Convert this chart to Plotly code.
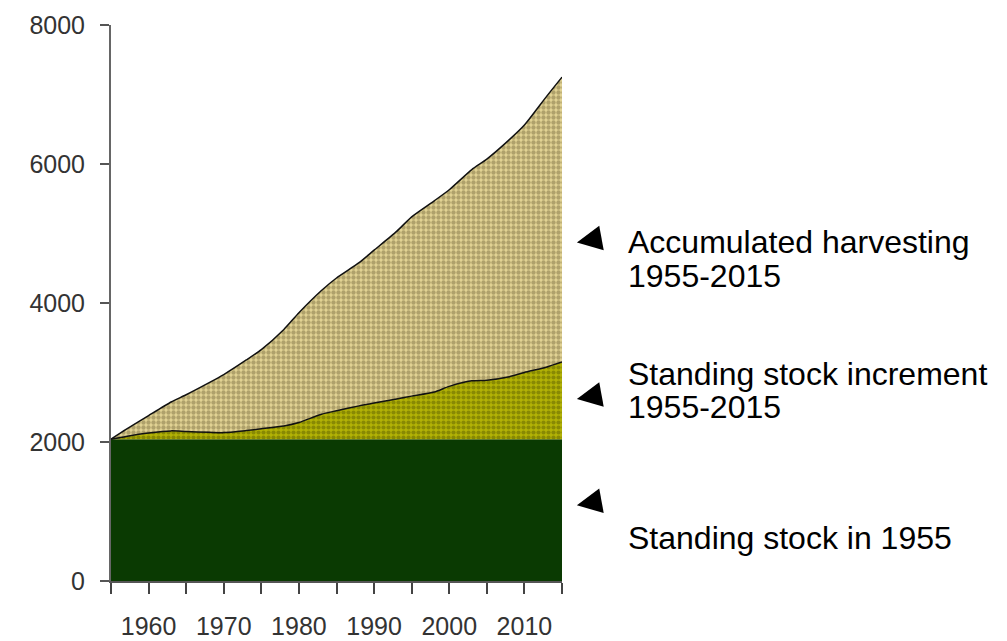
import plotly.graph_objects as go

# values (million m3, roughly)
years = [1955, 1957, 1960, 1963, 1965, 1968, 1970, 1973, 1975, 1978, 1980,
         1983, 1985, 1988, 1990, 1993, 1995, 1998, 2000, 2003, 2005, 2008,
         2010, 2013, 2015]
stock_1955 = [2040] * len(years)
stock_total = [2040, 2080, 2130, 2160, 2150, 2140, 2135, 2165, 2190, 2230, 2280,
               2400, 2450, 2520, 2560, 2620, 2660, 2720, 2800, 2880, 2890, 2940,
               3000, 3080, 3150]
harvest_total = [2040, 2180, 2380, 2576, 2680, 2850, 2970, 3180, 3330, 3620, 3860,
                 4180, 4360, 4580, 4760, 5030, 5240, 5470, 5630, 5920, 6070, 6350,
                 6560, 6980, 7250]

x_ticks = [1960, 1970, 1980, 1990, 2000, 2010]
y_ticks = [0, 2000, 4000, 6000, 8000]

labels = [
    ("Accumulated harvesting", "1955-2015"),
    ("Standing stock increment", "1955-2015"),
    ("Standing stock in 1955", None),
]

FONT = "Liberation Sans, Arial, sans-serif"

fig = go.Figure()

fig.add_trace(go.Scatter(
    x=years, y=stock_1955, mode="lines", fill="tozeroy",
    line=dict(width=0, color="#0a3a02"), fillcolor="#0a3a02",
    hoverinfo="skip",
))
fig.add_trace(go.Scatter(
    x=years, y=stock_total, mode="lines", fill="tonexty",
    line=dict(width=1.5, color="#111111", shape="spline", smoothing=0.6),
    fillpattern=dict(shape=".", bgcolor="#b2b206", fgcolor="#5e5f00",
                     size=5, solidity=0.55),
    hoverinfo="skip",
))
fig.add_trace(go.Scatter(
    x=years, y=harvest_total, mode="lines", fill="tonexty",
    line=dict(width=1.5, color="#111111", shape="spline", smoothing=0.6),
    fillpattern=dict(shape=".", bgcolor="#e2d394", fgcolor="#7c6f42",
                     size=5, solidity=0.6),
    hoverinfo="skip",
))

# arrows + text on the right side
arrow_y = [4870, 2620, 1090]
text_y = [(4880, 4390), (2975, 2500), (620, None)]
for (l1, l2), ay, (ty1, ty2) in zip(labels, arrow_y, text_y):
    fig.add_annotation(x=1.033, xref="paper", y=ay, yref="y", text="",
                       showarrow=True, arrowhead=2, arrowsize=1,
                       arrowwidth=5, arrowcolor="black", ax=22, ay=-4)
    fig.add_annotation(x=1.142, xref="paper", y=ty1, yref="y", text=l1,
                       showarrow=False, xanchor="left", yanchor="middle",
                       font=dict(family=FONT, size=32, color="black"))
    if l2:
        fig.add_annotation(x=1.142, xref="paper", y=ty2, yref="y", text=l2,
                           showarrow=False, xanchor="left", yanchor="middle",
                           font=dict(family=FONT, size=32, color="black"))

fig.update_xaxes(
    range=[1955, 2015], tickvals=x_ticks, ticktext=[str(v) for v in x_ticks],
    showgrid=False, zeroline=False, showline=True, linecolor="#555555",
    linewidth=2, ticks="outside", ticklen=11, tickwidth=2, tickcolor="#444444",
    ticklabelstandoff=11, automargin=False,
    minor=dict(tick0=1955, dtick=5, ticks="outside", ticklen=11,
               tickwidth=2, tickcolor="#444444"),
    tickfont=dict(family=FONT, size=25, color="#333333"),
)
fig.update_yaxes(
    range=[0, 8000], tickvals=y_ticks, ticktext=[str(v) for v in y_ticks],
    showgrid=False, zeroline=False, showline=True, linecolor="#666666",
    linewidth=2, ticks="outside", ticklen=9, tickwidth=2, tickcolor="#555555",
    ticklabelstandoff=10, automargin=False,
    tickfont=dict(family=FONT, size=25, color="#333333"),
)

fig.update_layout(
    width=1007, height=641,
    margin=dict(l=111, r=445, t=25, b=60),
    plot_bgcolor="white", paper_bgcolor="white",
    showlegend=False,
)

# page body has an 8px default margin; drop it so the figure sits at 0,0
fig.write_html("out.html", config={"displayModeBar": False},
               post_script="document.body.style.margin='0';")
